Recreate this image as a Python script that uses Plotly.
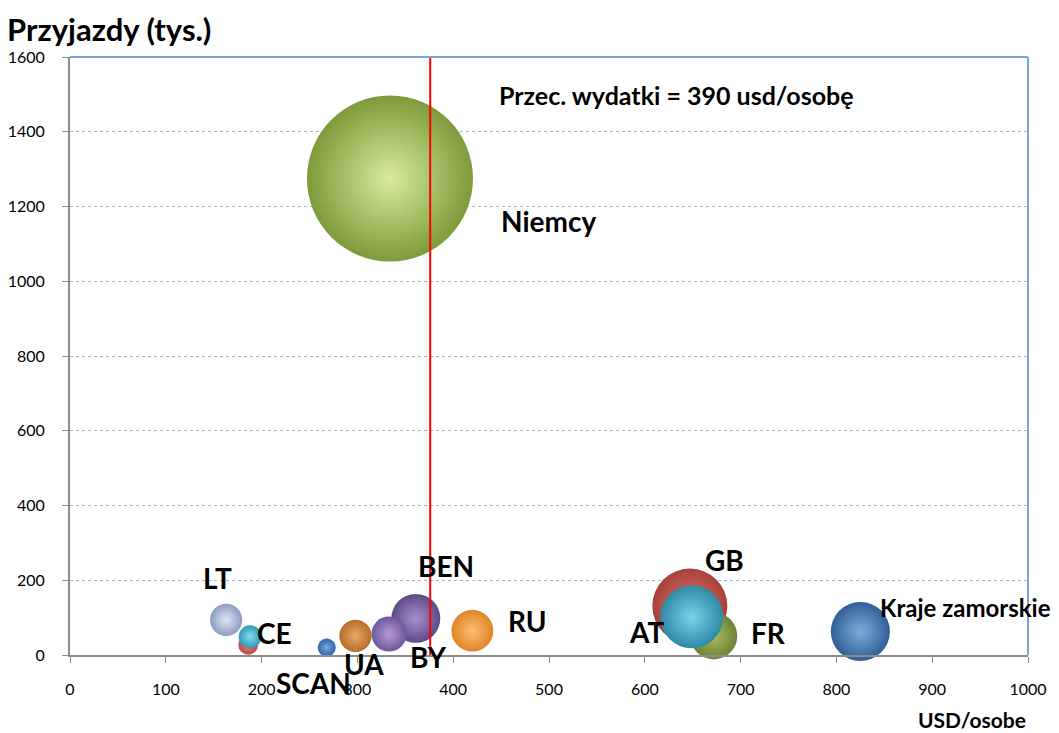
import plotly.graph_objects as go

# Data
countries = ["Niemcy", "GB", "FR", "AT", "Kraje zamorskie", "RU", "BEN", "BY",
             "UA", "LT", "inne", "CE", "SCAN"]
usd_per_person = [334, 647, 672, 649, 825, 420, 361, 333, 298, 163, 186, 188, 268]
arrivals_k = [1275, 131, 51, 102, 63, 65, 98, 56, 51, 94, 27, 49, 20]
spending_mln = [426, 87, 34, 61, 54, 27, 37, 19, 16, 16, 6, 8, 5]
avg_spending_line = 376
avg_label = "Przec. wydatki = 390 usd/osobę"

X_RANGE = [0, 1000]
Y_RANGE = [0, 1600]

edge_colors = ["#7e9a3a", "#a8403a", "#6f8234", "#2e8aa6", "#2f5f98", "#e08428",
               "#5e4a88", "#6e589a", "#b86c28", "#8c9cc0", "#b84848", "#2e9ab8", "#2f64a8"]
center_colors = ["#d8ec9c", "#d8786e", "#a8bc60", "#78d4ea", "#80acdc", "#fbc070",
                 "#a890cc", "#b49ad8", "#eaa868", "#e0e6f4", "#e08080", "#88dcf0", "#78a8e0"]

# label annotations: (text, x, y, size) in data units
labels = [
    ("Niemcy", 499, 1160, 28),
    ("GB", 683, 254, 28),
    ("FR", 729, 59, 28),
    ("AT", 602, 61, 28),
    ("Kraje zamorskie", 935, 128, 24),
    ("RU", 478, 91, 28),
    ("BEN", 393, 238, 28),
    ("BY", 374, -5, 28),
    ("UA", 307, -24, 28),
    ("LT", 154, 206, 28),
    ("CE", 213, 59, 28),
    ("SCAN", 254, -75, 28),
]

D_REF = 166.0
sizeref = 2.0 * max(spending_mln) / (D_REF ** 2)

# page body has an 8px margin in the browser
W, H = 1051, 725
ml, mr, mt, mb = 62, 31, 49, 78
pw, ph = W - ml - mr, H - mt - mb

fig = go.Figure()
fig.add_trace(go.Scatter(
    x=usd_per_person, y=arrivals_k, mode="markers",
    marker=dict(size=spending_mln, sizemode="area", sizeref=sizeref,
                color=edge_colors, line=dict(width=0),
                gradient=dict(type="radial", color=center_colors),
                opacity=1),
    hoverinfo="skip", cliponaxis=False, showlegend=False,
))

fig.add_shape(type="line", x0=avg_spending_line, x1=avg_spending_line,
              y0=Y_RANGE[0], y1=Y_RANGE[1],
              xref="x", yref="y", line=dict(color="#ff0000", width=2), layer="above")

font_family = "Lato, Open Sans, sans-serif"
for text, lx, ly, sz in labels:
    fig.add_annotation(x=(lx - X_RANGE[0]) / (X_RANGE[1] - X_RANGE[0]),
                       y=(ly - Y_RANGE[0]) / (Y_RANGE[1] - Y_RANGE[0]),
                       xref="paper", yref="paper", xanchor="center", yanchor="middle",
                       text=f"<b>{text}</b>",
                       showarrow=False, font=dict(family=font_family, size=sz, color="#000"))

def px_to_paper(px, py):
    return (px - 8 - ml) / pw, (H - (py - 8) - mb) / ph

ax_, ay_ = px_to_paper(676, 95)
fig.add_annotation(x=ax_, y=ay_, xref="paper", yref="paper", xanchor="center", yanchor="middle",
                   text=f"<b>{avg_label}</b>",
                   showarrow=False, font=dict(family=font_family, size=25, color="#000"))

tx, ty = px_to_paper(109, 29)
fig.add_annotation(x=tx, y=ty, xref="paper", yref="paper", xanchor="center", yanchor="middle",
                   text="<b>Przyjazdy (tys.)</b>",
                   showarrow=False, font=dict(family=font_family, size=31, color="#000"))
ux, uy = px_to_paper(972, 719)
fig.add_annotation(x=ux, y=uy, xref="paper", yref="paper", xanchor="center", yanchor="middle",
                   text="<b>USD/osobe</b>",
                   showarrow=False, font=dict(family=font_family, size=21, color="#000"))

fig.update_layout(
    width=W, height=H,
    margin=dict(l=ml, r=mr, t=mt, b=mb, autoexpand=False),
    paper_bgcolor="white", plot_bgcolor="white",
    font=dict(family=font_family, size=16, color="#000"),
    xaxis=dict(range=X_RANGE, dtick=100, showgrid=False, zeroline=False,
               showline=True, linecolor="#8c8c8c", linewidth=2, mirror=False,
               ticks="outside", ticklen=6, tickcolor="#8c8c8c",
               tickfont=dict(size=16), ticklabelstandoff=13),
    yaxis=dict(range=Y_RANGE, dtick=200, showgrid=True, gridcolor="#9db8dc",
               griddash="dot", gridwidth=1, zeroline=False,
               showline=True, linecolor="#8c8c8c", linewidth=2,
               ticks="outside", ticklen=6, tickcolor="#8c8c8c",
               tickfont=dict(size=16), ticklabelstandoff=14),
)
# blue top and right border
fig.add_shape(type="line", xref="paper", yref="paper", x0=0, x1=1, y0=1, y1=1,
              line=dict(color="#7aa3d6", width=2))
fig.add_shape(type="line", xref="paper", yref="paper", x0=1, x1=1, y0=0, y1=1,
              line=dict(color="#7aa3d6", width=2))

fig.write_html("out.html")
